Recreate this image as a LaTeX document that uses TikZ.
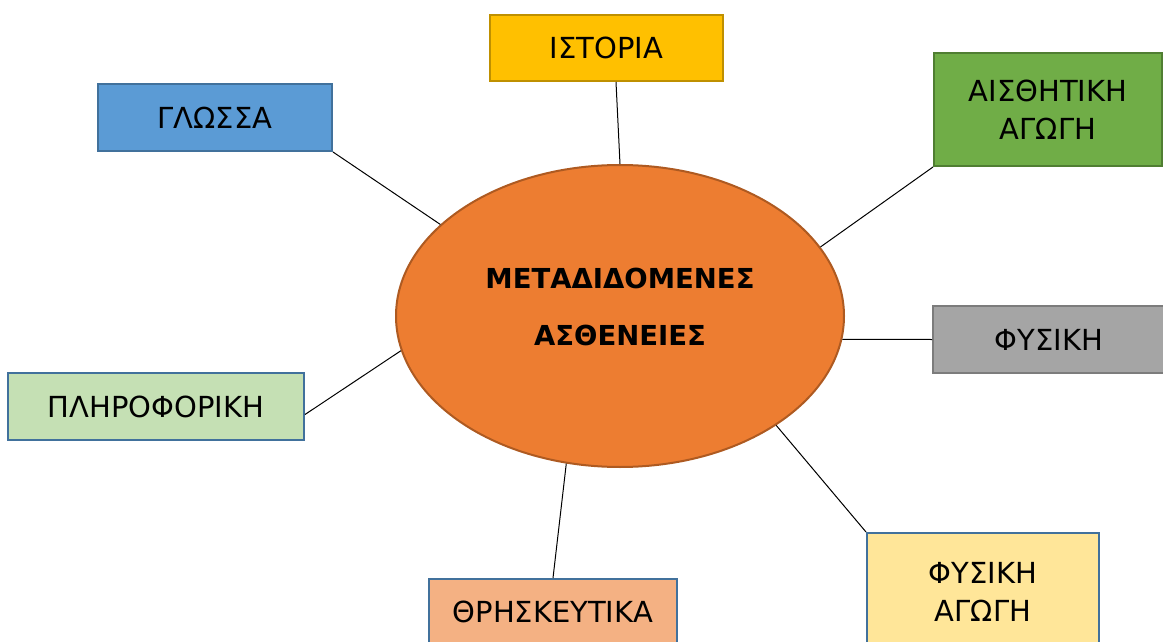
\documentclass[tikz,border=0pt]{standalone}
\usepackage{fontspec}
\setmainfont{DejaVu Sans}
\usetikzlibrary{shapes.geometric}
\definecolor{ellfill}{HTML}{ED7D31}
\definecolor{elldraw}{HTML}{AE5A21}
\definecolor{goldfill}{HTML}{FFC000}
\definecolor{golddraw}{HTML}{BF9000}
\definecolor{greenfill}{HTML}{70AD47}
\definecolor{greendraw}{HTML}{507E32}
\definecolor{grayfill}{HTML}{A5A5A5}
\definecolor{graydraw}{HTML}{7C7C7C}
\definecolor{bluefill}{HTML}{5B9BD5}
\definecolor{bluedraw}{HTML}{41719C}
\definecolor{lgreenfill}{HTML}{C5E0B4}
\definecolor{peachfill}{HTML}{F4B183}
\definecolor{yellowfill}{HTML}{FFE699}
\begin{document}
\begin{tikzpicture}[x=1pt,y=-1pt,
  box/.style={draw=bluedraw, line width=2pt, rectangle, inner sep=0pt, align=center,
    text=black, font=\fontsize{29}{38}\selectfont},
  link/.style={draw=black, line width=1pt}]
\useasboundingbox (0,0) rectangle (1163,642);
\clip (0,0) rectangle (1163,642);
\node[ellipse, draw=elldraw, fill=ellfill, line width=2pt, minimum width=448pt,
  minimum height=302pt, inner sep=0pt] (e) at (620,316) {};
\node[inner sep=0pt, align=center, font=\bfseries\fontsize{27.5}{57}\selectfont] (etext) at (620,306.5)
  {ΜΕΤΑΔΙΔΟΜΕΝΕΣ\\ΑΣΘΕΝΕΙΕΣ};
\node[box, draw=golddraw, fill=goldfill, minimum width=233pt, minimum height=66pt] (ist) at (606.5,48) {ΙΣΤΟΡΙΑ};
\node[box, draw=greendraw, fill=greenfill, minimum width=228pt, minimum height=113pt] (ais) at (1048,109.5) {ΑΙΣΘΗΤΙΚΗ\\ΑΓΩΓΗ};
\node[box, draw=graydraw, fill=grayfill, minimum width=232pt, minimum height=67pt] (fys) at (1049,339.5) {ΦΥΣΙΚΗ};
\node[box, fill=bluefill, minimum width=234pt, minimum height=67pt] (glo) at (215,117.5) {ΓΛΩΣΣΑ};
\node[box, fill=lgreenfill, minimum width=296pt, minimum height=67pt] (pli) at (156,406.5) {ΠΛΗΡΟΦΟΡΙΚΗ};
\node[box, fill=peachfill, minimum width=248pt, minimum height=65pt] (thr) at (553,611.5) {ΘΡΗΣΚΕΥΤΙΚΑ};
\node[box, fill=yellowfill, minimum width=232pt, minimum height=118pt] (fag) at (983,592) {ΦΥΣΙΚΗ\\ΑΓΩΓΗ};
\draw[link] ([xshift=9.5pt]ist.south) -- (e.90);
\draw[link] (glo.south east) -- (e.153.8);
\draw[link] (ais.south west) -- (e.19);
\draw[link] (fys.west) -- (e.-6.4);
\draw[link] ([yshift=-8pt]pli.east) -- (e.189.6);
\draw[link] (thr.north) -- (e.250);
\draw[link] (fag.north west) -- (e.325.6);
\end{tikzpicture}
\end{document}
